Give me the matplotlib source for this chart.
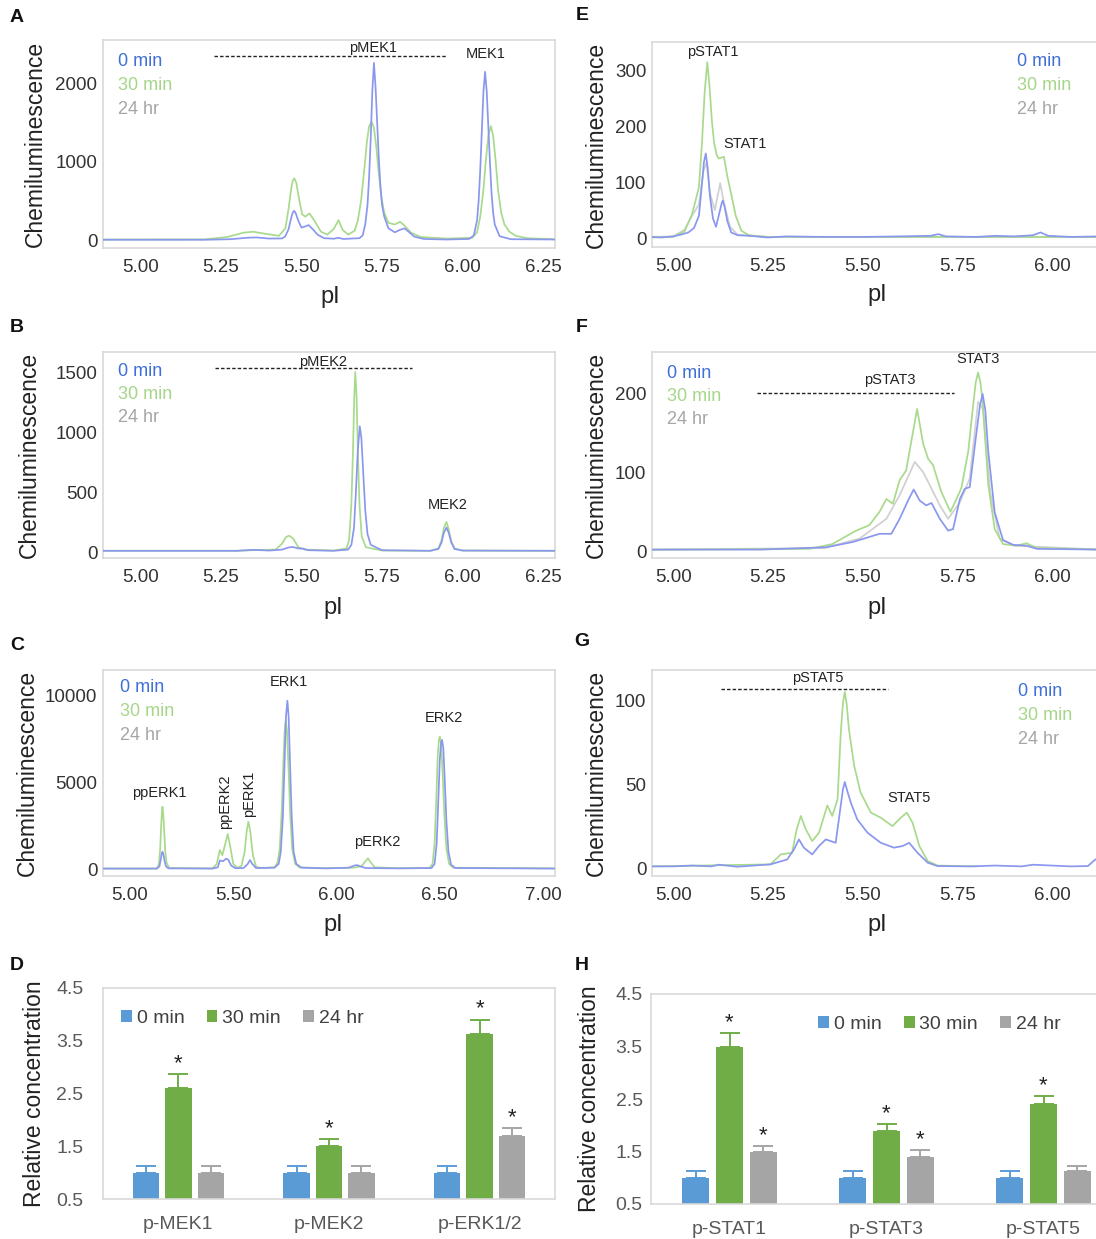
import matplotlib
matplotlib.use("Agg")
import matplotlib.pyplot as plt
from matplotlib.patches import Patch
import numpy as np

plt.rcParams['font.family'] = ['Liberation Sans', 'DejaVu Sans']

# ---------------- DATA ----------------
series_names = ['0 min', '30 min', '24 hr']

# Panel A (MEK1) traces: (pI, chemiluminescence)
A_blue = [(4.88,5),(5.20,5),(5.28,12),(5.33,30),(5.36,35),(5.40,20),(5.44,22),(5.45,50),(5.46,140),(5.468,280),
          (5.473,350),(5.477,374),(5.482,345),(5.49,250),(5.50,160),(5.512,175),(5.522,192),(5.535,140),(5.55,70),
          (5.57,25),(5.60,18),(5.615,30),(5.63,15),(5.68,25),(5.69,60),(5.698,200),(5.705,450),(5.71,800),(5.715,1300),
          (5.72,1900),(5.725,2259),(5.73,1950),(5.735,1500),(5.74,1050),(5.745,700),(5.75,450),(5.757,300),(5.77,150),
          (5.79,100),(5.805,130),(5.82,150),(5.835,100),(5.85,45),(5.88,15),(5.95,8),(6.02,15),(6.035,60),(6.045,250),
          (6.05,500),(6.055,900),(6.06,1400),(6.065,1900),(6.07,2145),(6.075,1900),(6.08,1450),(6.085,1000),(6.09,600),
          (6.095,350),(6.10,200),(6.115,50),(6.15,12),(6.29,8)]
A_green = [(4.88,8),(5.20,10),(5.27,40),(5.32,95),(5.35,107),(5.39,80),(5.43,55),(5.45,150),(5.46,400),(5.468,650),
           (5.473,760),(5.478,786),(5.484,730),(5.492,540),(5.502,330),(5.512,300),(5.525,340),(5.54,250),(5.56,110),
           (5.58,70),(5.60,140),(5.615,255),(5.628,130),(5.645,70),(5.665,120),(5.675,250),(5.685,500),(5.695,900),
           (5.703,1250),(5.71,1450),(5.718,1508),(5.725,1430),(5.732,1200),(5.74,850),(5.748,550),(5.757,350),(5.77,220),
           (5.79,200),(5.806,234),(5.82,185),(5.84,95),(5.87,40),(5.95,20),(6.03,30),(6.045,100),(6.055,300),(6.065,650),
           (6.072,1000),(6.08,1330),(6.088,1453),(6.095,1330),(6.103,1000),(6.11,650),(6.12,350),(6.13,200),(6.145,110),
           (6.165,55),(6.20,25),(6.29,10)]

# Panel B (MEK2)
B_blue = [(4.88,10),(5.30,10),(5.35,18),(5.40,12),(5.44,20),(5.46,38),(5.472,42),(5.49,30),(5.506,28),(5.52,15),
          (5.60,10),(5.645,20),(5.655,60),(5.663,200),(5.669,500),(5.675,850),(5.681,1048),(5.686,950),(5.692,650),
          (5.698,350),(5.705,150),(5.715,60),(5.75,15),(5.90,10),(5.925,25),(5.935,80),(5.942,160),(5.95,204),
          (5.957,160),(5.965,80),(5.975,25),(6.00,12),(6.29,10)]
B_green = [(4.88,10),(5.30,10),(5.35,15),(5.42,20),(5.44,70),(5.452,125),(5.462,136),(5.475,110),(5.49,40),(5.51,20),
           (5.60,12),(5.64,30),(5.648,100),(5.655,400),(5.66,850),(5.664,1300),(5.667,1500),(5.671,1300),(5.675,850),
           (5.68,400),(5.687,130),(5.70,40),(5.75,12),(5.90,10),(5.925,30),(5.935,100),(5.942,200),(5.95,250),
           (5.957,190),(5.965,90),(5.975,30),(6.00,12),(6.29,10)]

# Panel C (ERK1/2)
C_blue = [(4.87,30),(5.13,30),(5.142,150),(5.148,500),(5.153,880),(5.157,1000),(5.161,880),(5.167,500),(5.173,180),
          (5.185,40),(5.40,30),(5.425,100),(5.435,500),(5.45,450),(5.465,600),(5.475,550),(5.49,200),(5.51,50),(5.55,60),
          (5.57,300),(5.581,520),(5.592,300),(5.61,60),(5.70,80),(5.72,300),(5.73,1000),(5.74,3000),(5.748,6000),
          (5.755,8800),(5.762,9730),(5.768,8800),(5.775,6000),(5.783,3000),(5.792,1000),(5.805,300),(5.83,80),(5.95,40),
          (6.06,80),(6.085,200),(6.10,230),(6.115,160),(6.14,60),(6.30,40),(6.46,60),(6.475,300),(6.485,1500),
          (6.493,4000),(6.50,6300),(6.506,7300),(6.511,7460),(6.517,7000),(6.524,5200),(6.532,2800),(6.542,1000),
          (6.555,250),(6.575,60),(7.06,30)]
C_green = [(4.87,30),(5.13,30),(5.14,300),(5.146,1200),(5.151,2600),(5.155,3400),(5.157,3600),(5.16,3300),(5.165,2300),
           (5.17,1100),(5.177,350),(5.19,60),(5.40,40),(5.42,300),(5.435,1100),(5.447,800),(5.46,1400),(5.473,2020),
           (5.485,1300),(5.50,300),(5.52,60),(5.54,200),(5.555,1000),(5.565,2200),(5.573,2735),(5.582,2200),(5.595,800),
           (5.61,150),(5.63,60),(5.70,100),(5.715,400),(5.725,1200),(5.735,3500),(5.742,6000),(5.749,8000),(5.754,8610),
           (5.76,8000),(5.767,6000),(5.775,3300),(5.785,1200),(5.80,300),(5.82,100),(5.95,50),(6.08,80),(6.12,150),
           (6.14,450),(6.152,620),(6.165,400),(6.185,100),(6.30,50),(6.45,60),(6.465,300),(6.475,1500),(6.483,4000),
           (6.49,6500),(6.496,7500),(6.50,7650),(6.506,7300),(6.514,5500),(6.522,3200),(6.532,1200),(6.545,300),
           (6.565,80),(7.06,40)]

# Panel E (STAT1)
E_blue = [(4.94,2),(4.97,1),(5.00,3),(5.02,6),(5.04,10),(5.055,18),(5.068,40),(5.075,90),(5.081,135),(5.086,151),
          (5.091,125),(5.097,75),(5.105,35),(5.113,20),(5.122,45),(5.128,62),(5.131,67),(5.136,55),(5.143,30),(5.153,10),
          (5.17,5),(5.20,4),(5.25,1),(5.30,3),(5.40,2),(5.50,2),(5.60,3),(5.68,4),(5.70,7),(5.72,3),(5.80,2),(5.85,4),
          (5.90,3),(5.95,5),(5.97,10),(5.99,4),(6.05,2),(6.13,3)]
E_green = [(4.94,1),(5.00,2),(5.03,12),(5.05,43),(5.068,91),(5.076,170),(5.083,260),(5.09,314),(5.096,270),(5.102,210),
           (5.108,170),(5.115,148),(5.12,142),(5.134,145),(5.143,110),(5.153,79),(5.165,40),(5.18,13),(5.20,5),(5.25,2),(6.13,2)]
E_gray = [(4.94,2),(5.00,3),(5.03,15),(5.05,40),(5.068,60),(5.08,120),(5.088,135),(5.097,80),(5.11,50),(5.124,98),
          (5.135,60),(5.15,20),(5.17,6),(5.25,2),(6.13,2)]

# Panel F (STAT3)
F_blue = [(4.94,3),(5.23,3),(5.404,6),(5.474,12.6),(5.545,23),(5.576,23),(5.598,42),(5.62,65),(5.635,79),(5.651,65),
          (5.668,59),(5.682,62),(5.704,42),(5.726,27),(5.739,29),(5.757,67),(5.77,80),(5.783,82),(5.80,148),(5.81,185),
          (5.817,200),(5.824,180),(5.832,127),(5.849,50),(5.871,15),(5.898,9),(5.933,8),(5.96,4),(6.13,3)]
F_green = [(4.94,3),(5.36,4),(5.42,10),(5.483,27),(5.518,34),(5.545,51),(5.563,67),(5.58,61),(5.598,91),(5.615,103),
           (5.631,146),(5.644,181),(5.66,137),(5.673,118),(5.686,110),(5.708,76),(5.732,51),(5.748,67),(5.761,81),
           (5.779,127),(5.793,190),(5.799,215),(5.805,227),(5.811,215),(5.817,190),(5.832,85),(5.849,29),(5.871,10),
           (5.906,8),(5.933,11),(5.96,5),(6.13,3)]
F_gray = [(4.94,3),(5.40,5),(5.492,17),(5.563,42),(5.598,72),(5.638,114),(5.66,101),(5.677,85),(5.704,59),(5.726,42),
          (5.757,63),(5.783,93),(5.805,190),(5.818,181),(5.837,76),(5.862,17),(5.90,8),(6.13,3)]

# Panel G (STAT5)
G_blue = [(4.94,1.5),(5.00,1.5),(5.05,2),(5.10,1.5),(5.12,2.5),(5.169,1.3),(5.257,2.7),(5.301,5.6),(5.319,11.6),
          (5.332,17.5),(5.345,12.6),(5.367,8.6),(5.385,13.6),(5.403,17.5),(5.416,16.5),(5.429,15.5),(5.441,35.3),
          (5.448,47),(5.453,51.6),(5.46,46),(5.469,39.3),(5.486,29.4),(5.513,21.5),(5.548,15.5),(5.583,12.6),(5.606,13.6),
          (5.623,15.5),(5.645,9.6),(5.672,3.7),(5.698,1.7),(5.786,1.5),(5.85,2),(5.92,1.5),(5.95,2.5),(6.05,1.5),
          (6.095,1.7),(6.11,4.7),(6.13,8)]
G_green = [(4.94,1.5),(5.257,2.7),(5.284,8.6),(5.314,9.6),(5.326,23.5),(5.337,31.4),(5.35,23.5),(5.367,16.5),
           (5.385,21.5),(5.407,37.7),(5.42,31.4),(5.434,41.3),(5.442,79),(5.448,98),(5.453,105),(5.458,98),(5.464,82.9),
           (5.478,61),(5.495,45.2),(5.522,33.4),(5.548,30.4),(5.579,25.4),(5.601,30.4),(5.617,33.4),(5.632,27.4),
           (5.65,13.6),(5.672,4.7),(5.698,2),(5.80,1.5)]

# Bar panels
D_cats = ['p-MEK1', 'p-MEK2', 'p-ERK1/2']
D_0min = [1.0, 1.0, 1.0]
D_0min_err = [0.12, 0.12, 0.12]
D_30min = [2.61, 1.50, 3.62]
D_30min_err = [0.26, 0.13, 0.28]
D_24hr = [1.0, 1.0, 1.70]
D_24hr_err = [0.12, 0.12, 0.14]
D_star_30 = [True, True, True]
D_star_24 = [False, False, True]

H_cats = ['p-STAT1', 'p-STAT3', 'p-STAT5']
H_0min = [1.0, 1.0, 1.0]
H_0min_err = [0.12, 0.12, 0.12]
H_30min = [3.50, 1.90, 2.41]
H_30min_err = [0.26, 0.12, 0.14]
H_24hr = [1.50, 1.39, 1.12]
H_24hr_err = [0.11, 0.13, 0.10]
H_star_30 = [True, True, True]
H_star_24 = [True, True, False]

# ---------------- STYLE ----------------
W, H = 1096, 1239
fig = plt.figure(figsize=(W/100, H/100), dpi=100)

TR_BLUE = '#8a97ee'
TR_GREEN = '#a8da8c'
TR_GRAY = '#d0d0d0'
LG_BLUE = '#3f6fd8'
LG_GREEN = '#a6d68a'
LG_GRAY = '#a6a6a6'
BAR_COLORS = ['#5b9bd5', '#70ad47', '#a5a5a5']
FRAME = '#d9d9d9'
TICKC = '#333333'

def rect(l, t, r, b):
    return [l/W, 1 - b/H, (r-l)/W, (b-t)/H]

def fx(x):
    return x / W

def fy(y):
    return 1 - y / H

def trace_axes(px, xlim, ylim, xticks, yticks):
    ax = fig.add_axes(rect(*px))
    for s in ax.spines.values():
        s.set_color(FRAME)
        s.set_linewidth(1.2)
    ax.set_xlim(*xlim)
    ax.set_ylim(*ylim)
    ax.set_xticks(xticks)
    ax.set_xticklabels(['%.2f' % t for t in xticks])
    ax.set_yticks(yticks)
    ax.set_yticklabels([str(t) for t in yticks])
    ax.tick_params(length=0, labelsize=13.5, colors=TICKC)
    ax.tick_params(axis='x', pad=8)
    ax.tick_params(axis='y', pad=4)
    return ax

def draw(ax, pts, color, z, lw=1.25):
    xs = [p[0] for p in pts]
    ys = [p[1] for p in pts]
    ax.plot(xs, ys, color=color, lw=lw, zorder=z, solid_joinstyle='round')

def legend_text(x, y0, dy=23.5):
    for i, (name, c) in enumerate(zip(series_names, [LG_BLUE, LG_GREEN, LG_GRAY])):
        fig.text(fx(x), fy(y0 + i*dy), name, color=c, fontsize=13, ha='left', va='center')

def labels(ax, xl_center, xl_y, yl_x):
    fig.text(fx(xl_center), fy(xl_y), 'pI', fontsize=17, ha='center', va='center', color='#222222')
    pos = ax.get_position()
    fig.text(fx(yl_x), pos.y0 + pos.height/2, 'Chemiluminescence', fontsize=16.5, rotation=90,
             ha='center', va='center', color='#222222')

ANN = dict(fontsize=10.5, color='#222222', ha='center', va='center')
DASH = dict(color='#222222', lw=1.0, ls=(0, (2.5, 1.5)))

# ---------------- A ----------------
axA = trace_axes((103, 40, 555, 248), (4.884, 6.287), (-100, 2550), [5.0, 5.25, 5.5, 5.75, 6.0, 6.25], [0, 1000, 2000])
draw(axA, A_green, TR_GREEN, 2)
draw(axA, A_blue, TR_BLUE, 3)
axA.plot([5.228, 5.95], [2340, 2340], **DASH)
axA.text(5.722, 2450, 'pMEK1', **ANN)
axA.text(6.072, 2370, 'MEK1', **ANN)
legend_text(118, 62)
labels(axA, 330, 297, 35)

# ---------------- B ----------------
axB = trace_axes((103, 352, 555, 558), (4.884, 6.287), (-50, 1667), [5.0, 5.25, 5.5, 5.75, 6.0, 6.25], [0, 500, 1000, 1500])
draw(axB, B_green, TR_GREEN, 2)
draw(axB, B_blue, TR_BLUE, 3)
axB.plot([5.233, 5.844], [1530, 1530], **DASH)
axB.text(5.567, 1585, 'pMEK2', **ANN)
axB.text(5.955, 395, 'MEK2', **ANN)
legend_text(118, 371)
labels(axB, 333, 608, 29)

# ---------------- C ----------------
axC = trace_axes((103, 670, 555, 876), (4.869, 7.058), (-400, 11500), [5.0, 5.5, 6.0, 6.5, 7.0], [0, 5000, 10000])
draw(axC, C_green, TR_GREEN, 2)
draw(axC, C_blue, TR_BLUE, 3)
axC.text(5.144, 4410, 'ppERK1', **ANN)
axC.text(5.46, 3890, 'ppERK2', rotation=90, **ANN)
axC.text(5.578, 4370, 'pERK1', rotation=90, **ANN)
axC.text(5.767, 10830, 'ERK1', **ANN)
axC.text(6.196, 1580, 'pERK2', **ANN)
axC.text(6.52, 8750, 'ERK2', **ANN)
legend_text(120, 688)
labels(axC, 333, 925, 27)

# ---------------- E ----------------
axE = trace_axes((652, 42, 1100, 247), (4.944, 6.127), (-16, 350), [5.0, 5.25, 5.5, 5.75, 6.0], [0, 100, 200, 300])
draw(axE, E_gray, TR_GRAY, 1)
draw(axE, E_green, TR_GREEN, 2)
draw(axE, E_blue, TR_BLUE, 3)
axE.text(5.104, 332, 'pSTAT1', **ANN)
axE.text(5.189, 168, 'STAT1', **ANN)
legend_text(1017, 62)
labels(axE, 877, 295, 596)

# ---------------- F ----------------
axF = trace_axes((652, 352, 1100, 558), (4.944, 6.127), (-7.6, 253), [5.0, 5.25, 5.5, 5.75, 6.0], [0, 100, 200])
draw(axF, F_gray, TR_GRAY, 1)
draw(axF, F_green, TR_GREEN, 2)
draw(axF, F_blue, TR_BLUE, 3)
axF.plot([5.221, 5.741], [201, 201], **DASH)
axF.text(5.571, 218, 'pSTAT3', **ANN)
axF.text(5.805, 244, 'STAT3', **ANN)
legend_text(667, 373)
labels(axF, 877, 608, 596)

# ---------------- G ----------------
axG = trace_axes((652, 670, 1100, 876), (4.944, 6.127), (-4.2, 118), [5.0, 5.25, 5.5, 5.75, 6.0], [0, 50, 100])
draw(axG, G_green, TR_GREEN, 2)
draw(axG, G_blue, TR_BLUE, 3)
axG.plot([5.125, 5.568], [106.6, 106.6], **DASH)
axG.text(5.381, 113.5, 'pSTAT5', **ANN)
axG.text(5.623, 42.3, 'STAT5', **ANN)
legend_text(1018, 692)
labels(axG, 877, 925, 596)

# ---------------- Bar panels ----------------
def bar_panel(px, cats, vals, errs, stars, ylab_x, ypad):
    ax = fig.add_axes(rect(*px))
    for s in ax.spines.values():
        s.set_color(FRAME)
        s.set_linewidth(1.2)
    x = np.arange(len(cats))
    offs = [-0.215, 0.0, 0.215]
    w = 0.175
    for k in range(3):
        ax.bar(x + offs[k], vals[k], w, color=BAR_COLORS[k], zorder=2)
        ax.errorbar(x + offs[k], vals[k], yerr=[np.zeros(len(cats)), errs[k]], fmt='none',
                    ecolor=BAR_COLORS[k], elinewidth=1.4, capsize=7.5, capthick=1.4, zorder=3)
        if stars[k] is not None:
            for i in range(len(cats)):
                if stars[k][i]:
                    ax.text(x[i] + offs[k], vals[k][i] + errs[k][i] + 0.2, '*', ha='center', va='center',
                            fontsize=16, color='#222222')
    ax.set_xlim(-0.5, len(cats) - 0.5)
    ax.set_ylim(0.5, 4.5)
    ax.set_yticks([0.5, 1.5, 2.5, 3.5, 4.5])
    ax.set_yticklabels(['0.5', '1.5', '2.5', '3.5', '4.5'])
    ax.set_xticks(x)
    ax.set_xticklabels(cats)
    ax.tick_params(length=0, labelsize=14, colors='#595959')
    ax.tick_params(axis='x', pad=12)
    ax.tick_params(axis='y', pad=ypad)
    pos = ax.get_position()
    fig.text(fx(ylab_x), pos.y0 + pos.height/2, 'Relative concentration', fontsize=16.5, rotation=90,
             ha='center', va='center', color='#222222')
    handles = [Patch(facecolor=c, edgecolor='none') for c in BAR_COLORS]
    return ax, handles

LEG = dict(ncol=3, loc='center left', frameon=False, fontsize=14, handlelength=0.55, handleheight=0.55,
           handletextpad=0.25, columnspacing=1.15, labelcolor='#404040', borderaxespad=0, borderpad=0)

axD, hD = bar_panel((103, 988, 555, 1199), D_cats, [D_0min, D_30min, D_24hr], [D_0min_err, D_30min_err, D_24hr_err],
                    [None, D_star_30, D_star_24], 35, 14)
axD.legend(hD, series_names, bbox_to_anchor=(0.04, 0.855), **LEG)

axH, hH = bar_panel((651, 994, 1122, 1204), H_cats, [H_0min, H_30min, H_24hr], [H_0min_err, H_30min_err, H_24hr_err],
                    [None, H_star_30, H_star_24], 590, 6)
axH.legend(hH, series_names, bbox_to_anchor=(0.355, 0.855), **LEG)

# ---------------- Panel letters ----------------
for letter, (x, y) in {'A': (17, 18), 'B': (17, 328), 'C': (17, 645), 'D': (17, 965),
                       'E': (582, 15), 'F': (582, 328), 'G': (582, 641), 'H': (582, 966)}.items():
    fig.text(fx(x), fy(y), letter, fontsize=14, fontweight='bold', ha='center', va='center', color='#111111')

fig.savefig('out.png', dpi=100)
